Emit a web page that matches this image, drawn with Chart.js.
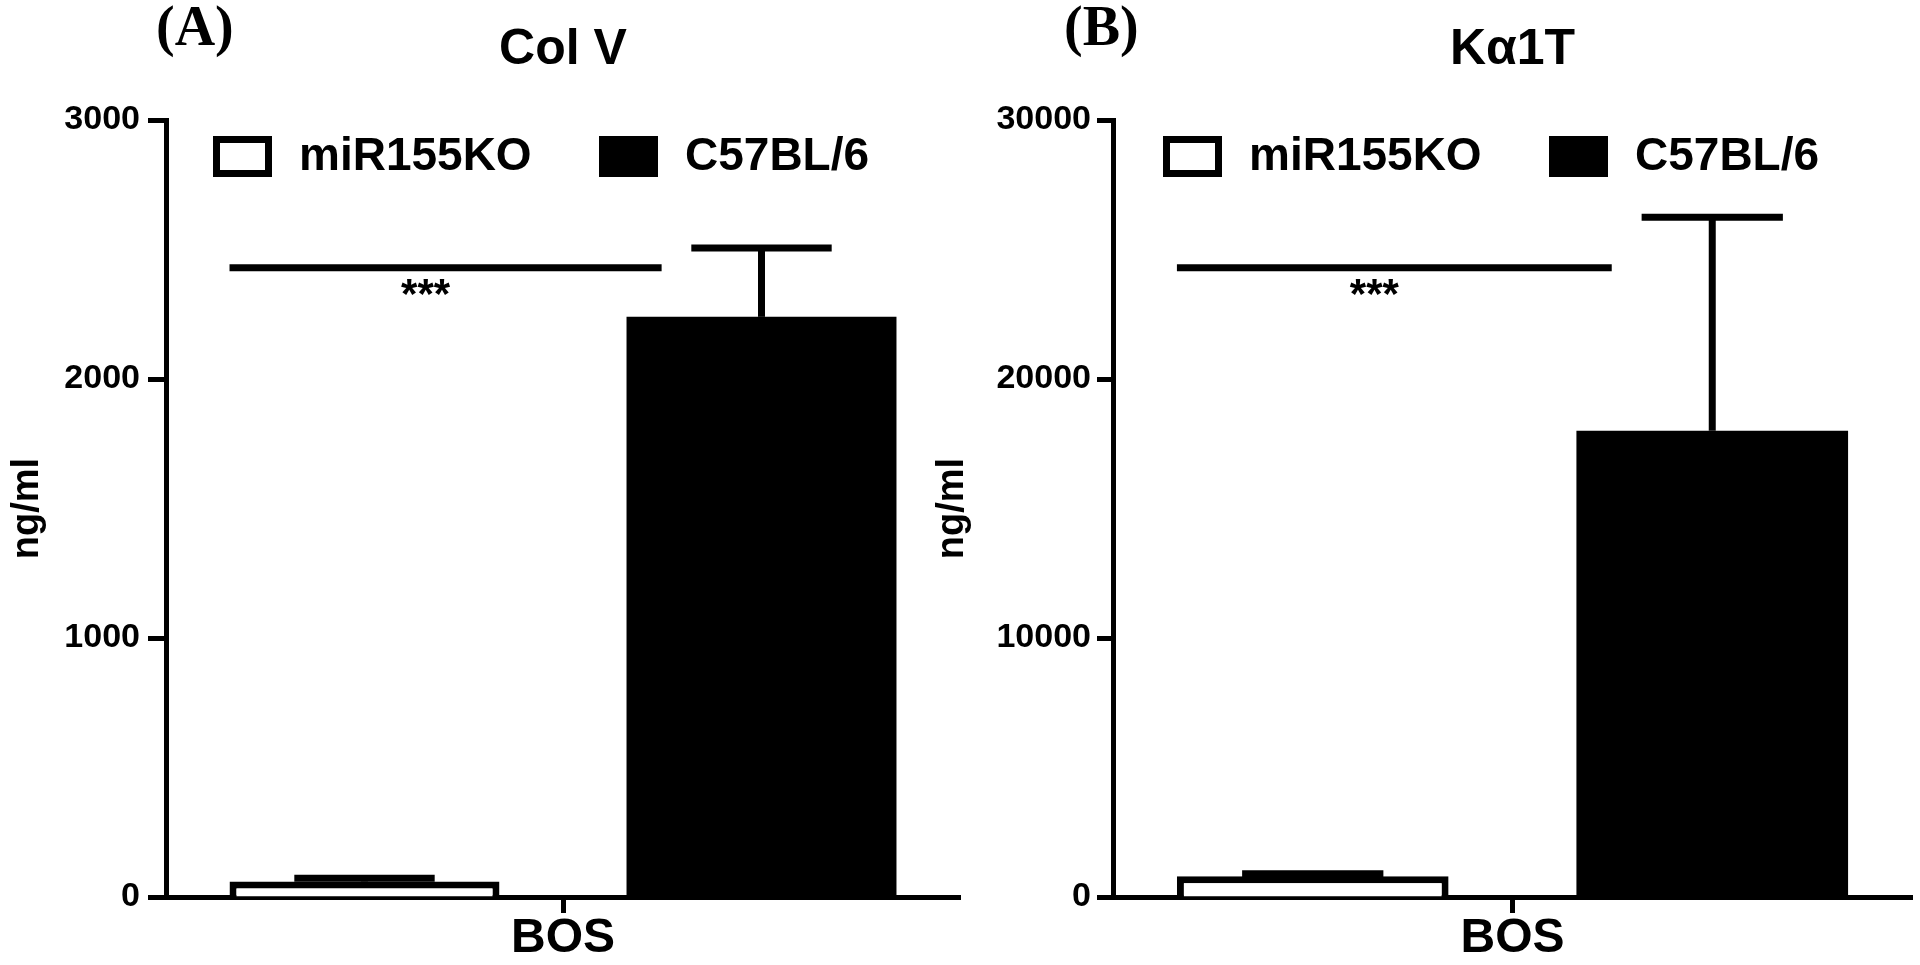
<!DOCTYPE html>
<html><head><meta charset="utf-8">
<script src="https://cdn.jsdelivr.net/npm/chart.js@4.4.0/dist/chart.umd.min.js"></script>
<style>
html,body{margin:0;padding:0;background:#fff;width:1920px;height:965px;overflow:hidden}
.wrap{position:absolute;top:0;height:965px}
#wa{left:0;width:962px}
#wb{left:920px;width:1000px}
canvas{display:block}
</style></head><body>
<div id="wa" class="wrap"><canvas id="ca" width="962" height="965"></canvas></div>
<div id="wb" class="wrap"><canvas id="cb" width="1000" height="965"></canvas></div>
<script>
// ---- data ----
const categories = ['BOS'];
const seriesNames = ['miR155KO', 'C57BL/6'];
const seriesFills = ['#ffffff', '#000000'];
const yAxisTitle = 'ng/ml';

const colVTitle = 'Col V';
const colVPanel = '(A)';
const colVMeans = [60, 2240];
const colVErrors = [12, 266];
const colVSignificance = 2430;
const colVStars = '***';
const colVTicks = [0, 1000, 2000, 3000];

const ka1tTitle = 'K\u03B11T';
const ka1tPanel = '(B)';
const ka1tMeans = [800, 18000];
const ka1tErrors = [100, 8250];
const ka1tSignificance = 24300;
const ka1tStars = '***';
const ka1tTicks = [0, 10000, 20000, 30000];

const FONT = '"Liberation Sans", Arial, sans-serif';
const SERIF = '"Liberation Serif", "Times New Roman", serif';

const decor = {
  id: 'decor',
  afterDatasetsDraw(chart, args, opts) {
    const ctx = chart.ctx;
    const ys = chart.scales.y;
    const ca = chart.chartArea;
    ctx.save();
    ctx.strokeStyle = '#000';
    ctx.fillStyle = '#000';
    ctx.lineCap = 'butt';
    // error bars
    chart.data.datasets.forEach((ds, di) => {
      const meta = chart.getDatasetMeta(di);
      meta.data.forEach((bar, i) => {
        const top = ys.getPixelForValue(ds.data[i] + ds.errors[i]);
        const half = bar.width * 0.26;
        ctx.lineWidth = 7;
        ctx.beginPath();
        ctx.moveTo(bar.x, bar.y);
        ctx.lineTo(bar.x, top);
        ctx.stroke();
        ctx.beginPath();
        ctx.moveTo(bar.x - half, top);
        ctx.lineTo(bar.x + half, top);
        ctx.stroke();
      });
    });
    // significance line
    const b0 = chart.getDatasetMeta(0).data[0];
    const b1 = chart.getDatasetMeta(1).data[0];
    const x0 = b0.x - b0.width / 2;
    const x1 = b1.x - b1.width / 2 + b1.width * 0.13;
    const sy = ys.getPixelForValue(opts.significance);
    ctx.lineWidth = 7;
    ctx.beginPath();
    ctx.moveTo(x0, sy);
    ctx.lineTo(x1, sy);
    ctx.stroke();
    ctx.font = 'bold 42px ' + FONT;
    ctx.textAlign = 'center';
    ctx.textBaseline = 'middle';
    ctx.fillText(opts.stars, (x0 + x1) / 2 - 20, sy + 29);
    // legend
    ctx.font = 'bold 46px ' + FONT;
    ctx.textAlign = 'left';
    chart.data.datasets.forEach((ds, i) => {
      const bx = ca.left + opts.legendOffsets[i];
      const by = ca.top + 16;
      const bw = 59, bh = 41;
      ctx.fillStyle = '#000';
      ctx.fillRect(bx, by, bw, bh);
      if (ds.backgroundColor !== '#000000') {
        ctx.fillStyle = ds.backgroundColor;
        ctx.fillRect(bx + 7, by + 7, bw - 14, bh - 14);
      }
      ctx.fillStyle = '#000';
      ctx.fillText(ds.label, bx + bw + 27, by + bh / 2 + 1);
    });
    // panel letter
    ctx.font = 'bold 56px ' + SERIF;
    ctx.textBaseline = 'alphabetic';
    ctx.fillText(opts.panel, opts.panelX, 45);
    ctx.restore();
  }
};

function makeChart(id, cfg) {
  return new Chart(document.getElementById(id), {
    type: 'bar',
    plugins: [decor],
    data: {
      labels: categories,
      datasets: seriesNames.map((name, i) => ({
        label: name,
        data: [cfg.means[i]],
        errors: [cfg.errors[i]],
        backgroundColor: seriesFills[i],
        borderColor: '#000000',
        borderWidth: i === 0 ? 7 : 0,
        categoryPercentage: 1,
        barPercentage: 0.68
      }))
    },
    options: {
      responsive: false,
      animation: false,
      layout: { padding: { top: 0, left: 0, right: cfg.padRight, bottom: 0 } },
      plugins: {
        legend: { display: false },
        tooltip: { enabled: false },
        title: {
          display: true, text: cfg.title, fullSize: false, color: '#000',
          font: { family: FONT, size: 50, weight: 'bold', lineHeight: 1.2 },
          padding: { top: 20, bottom: 40 }
        },
        decor: {
          significance: cfg.sig, stars: cfg.stars, panel: cfg.panel,
          panelX: cfg.panelX, legendOffsets: cfg.legendOffsets
        }
      },
      scales: {
        x: {
          afterFit: s => { s.height = 68; },
          grid: { display: true, drawOnChartArea: false, drawTicks: true, offset: false,
                  tickLength: 16, tickWidth: 5, tickColor: '#000' },
          border: { display: true, color: '#000', width: 5 },
          ticks: { color: '#000', font: { family: FONT, size: 48, weight: 'bold', lineHeight: 1 },
                   padding: 2, maxRotation: 0 }
        },
        y: {
          min: 0, max: cfg.ticks[cfg.ticks.length - 1],
          afterFit: s => { s.width = cfg.axisWidth; },
          afterBuildTicks: s => { s.ticks = cfg.ticks.map(v => ({ value: v })); },
          grid: { display: true, drawOnChartArea: false, drawTicks: true,
                  tickLength: cfg.tickLen, tickWidth: 5, tickColor: '#000' },
          border: { display: true, color: '#000', width: 5 },
          ticks: { color: '#000', font: { family: FONT, size: 34, weight: 'bold' },
                   padding: cfg.tickPad, callback: v => String(v) },
          title: { display: true, text: yAxisTitle, color: '#000',
                   font: { family: FONT, size: 38, weight: 'bold', lineHeight: 1.2 },
                   padding: { top: cfg.titlePad, bottom: 0 } }
        }
      }
    }
  });
}

makeChart('ca', {
  means: colVMeans, errors: colVErrors, sig: colVSignificance, stars: colVStars,
  ticks: colVTicks, title: colVTitle, panel: colVPanel, panelX: 156,
  axisWidth: 166, padRight: 2, tickLen: 18, tickPad: 8, titlePad: 5,
  legendOffsets: [47, 433]
});
makeChart('cb', {
  means: ka1tMeans, errors: ka1tErrors, sig: ka1tSignificance, stars: ka1tStars,
  ticks: ka1tTicks, title: ka1tTitle, panel: ka1tPanel, panelX: 144,
  axisWidth: 193, padRight: 8, tickLen: 16, tickPad: 6, titlePad: 10,
  legendOffsets: [50, 436]
});
</script>
</body></html>
